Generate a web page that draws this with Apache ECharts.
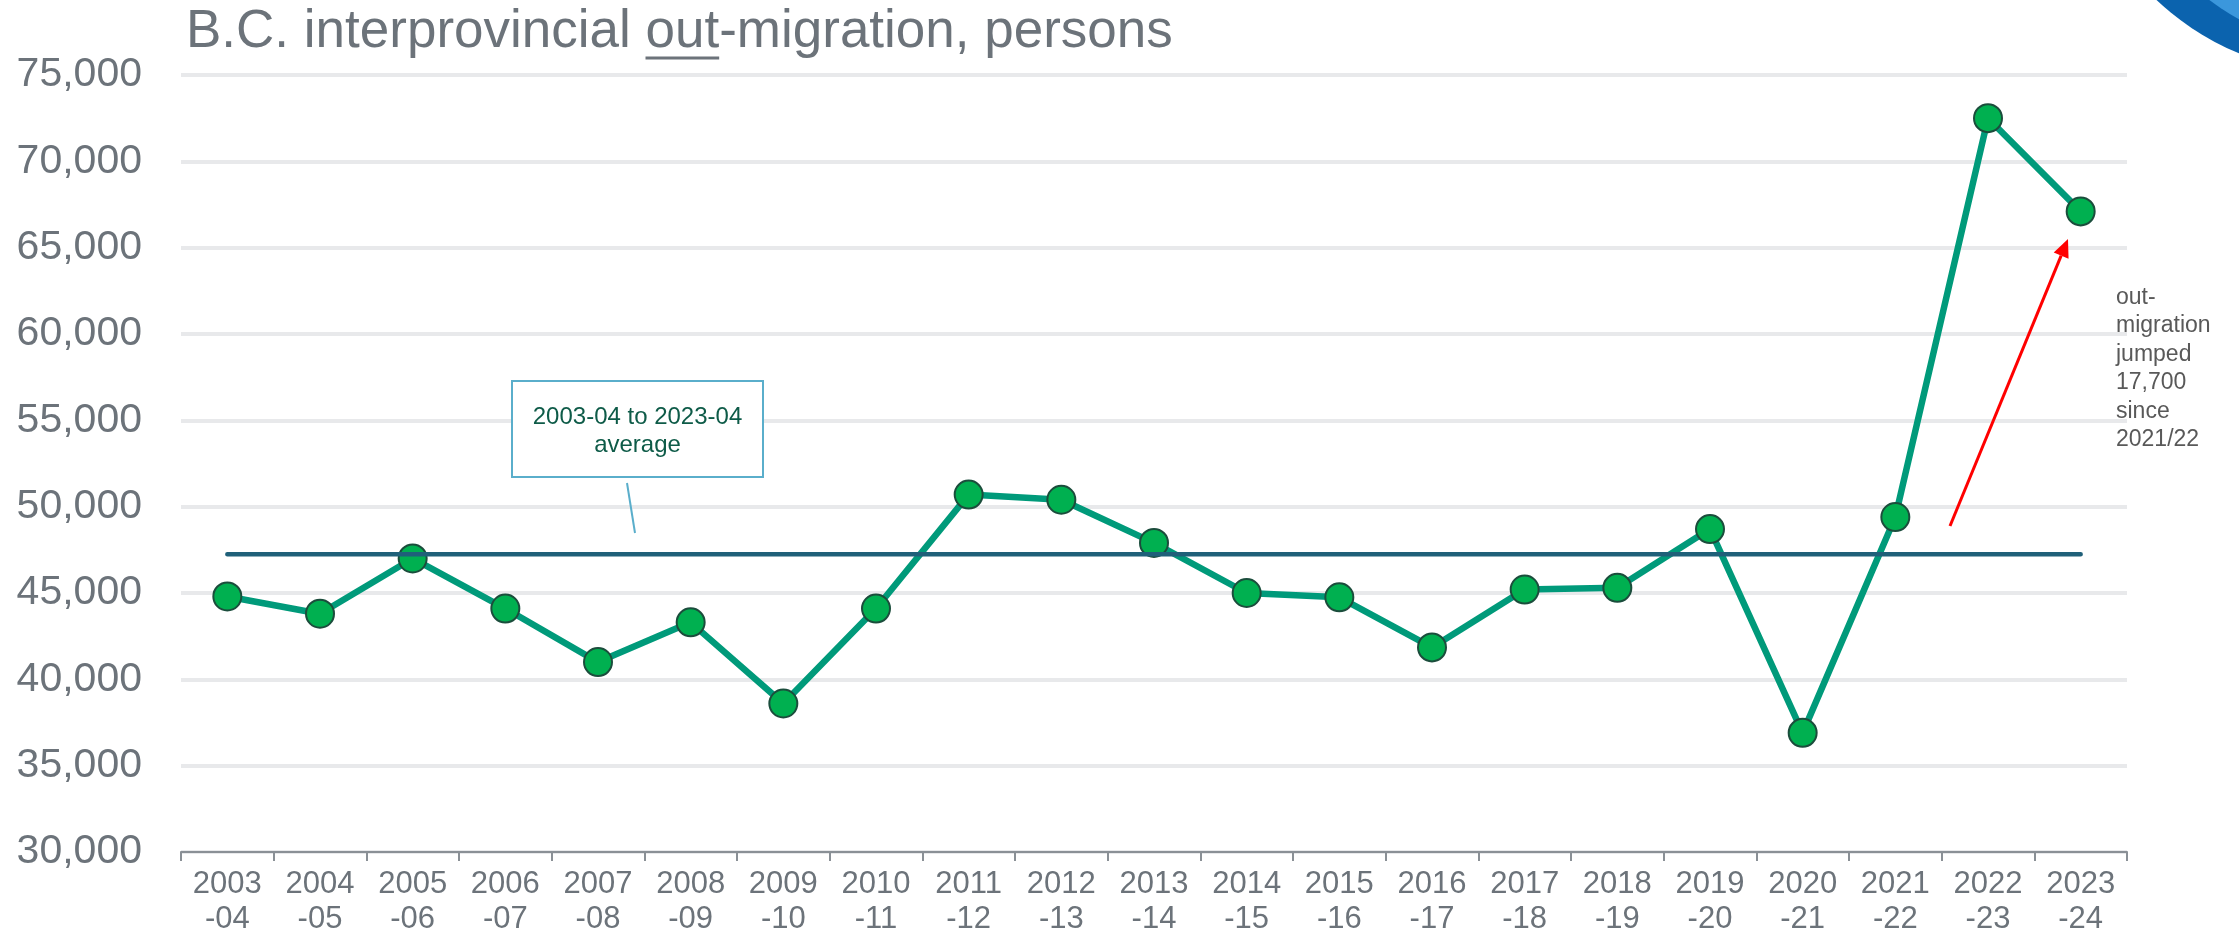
<!DOCTYPE html>
<html>
<head>
<meta charset="utf-8">
<script src="https://cdn.jsdelivr.net/npm/echarts@6/dist/echarts.min.js"></script>
<style>
  html, body { margin: 0; padding: 0; background: #ffffff; }
  #chart { width: 2239px; height: 939px; }
</style>
</head>
<body>
<div id="chart"></div>
<script>
// ---- data ----
const categories = ['2003\n-04','2004\n-05','2005\n-06','2006\n-07','2007\n-08','2008\n-09','2009\n-10',
  '2010\n-11','2011\n-12','2012\n-13','2013\n-14','2014\n-15','2015\n-16','2016\n-17','2017\n-18',
  '2018\n-19','2019\n-20','2020\n-21','2021\n-22','2022\n-23','2023\n-24'];
const outMigration = [44800, 43800, 47000, 44100, 41000, 43300, 38600, 44100, 50700, 50400, 47900,
  45000, 44750, 41850, 45200, 45300, 48700, 36900, 49400, 72500, 67100];
const averageLine = [47250, 47250, 47250, 47250, 47250, 47250, 47250, 47250, 47250, 47250, 47250,
  47250, 47250, 47250, 47250, 47250, 47250, 47250, 47250, 47250, 47250];
const yTicks = { min: 30000, max: 75000, interval: 5000 };
const titleParts = ['B.C. interprovincial ', 'out', '-migration, persons'];
const boxText = '2003-04 to 2023-04\naverage';
const sideNote = 'out-\nmigration\njumped\n17,700\nsince\n2021/22';

const FONT = '"Liberation Sans", Arial, sans-serif';
const GREY = '#6c737a';

// measure title to place the underline under "out"
const mctx = document.createElement('canvas').getContext('2d');
mctx.font = '53px "Liberation Sans"';
const titleX = 186;
const preW = mctx.measureText(titleParts[0]).width;
const outW = mctx.measureText(titleParts[1]).width;

// arrow geometry (annotation)
const ax0 = 1950, ay0 = 526, ax1 = 2068, ay1 = 239;
const dx = ax1 - ax0, dy = ay1 - ay0, L = Math.sqrt(dx*dx + dy*dy);
const ux = dx / L, uy = dy / L, px = -uy, py = ux;
const headLen = 18, headW = 8;
const bx = ax1 - ux * headLen, by = ay1 - uy * headLen;

const chart = echarts.init(document.getElementById('chart'), null, { renderer: 'canvas' });
chart.setOption({
  backgroundColor: '#ffffff',
  animation: false,
  grid: { left: 181, right: 112, top: 75, bottom: 87 },
  xAxis: {
    type: 'category',
    data: categories,
    boundaryGap: true,
    axisLine: { lineStyle: { color: '#8a9096', width: 2 } },
    axisTick: { show: true, length: 9, lineStyle: { color: '#8a9096', width: 2 } },
    axisLabel: { color: GREY, fontSize: 31, fontFamily: FONT, lineHeight: 35, margin: 15, interval: 0 },
    splitLine: { show: false }
  },
  yAxis: {
    type: 'value',
    min: yTicks.min, max: yTicks.max, interval: yTicks.interval,
    axisLine: { show: false },
    axisTick: { show: false },
    axisLabel: {
      color: GREY, fontSize: 41, fontFamily: FONT, margin: 39,
      formatter: v => v.toLocaleString('en-US')
    },
    splitLine: { show: true, lineStyle: { color: '#e8e9eb', width: 4 } }
  },
  series: [
    {
      name: 'out-migration',
      type: 'line',
      data: outMigration,
      z: 2,
      lineStyle: { color: '#009a7a', width: 6.5 },
      symbol: 'circle',
      symbolSize: 28,
      itemStyle: { color: '#00b050', borderColor: '#1b4d3c', borderWidth: 2 }
    },
    {
      name: 'average',
      type: 'line',
      data: averageLine,
      z: 3,
      symbol: 'none',
      lineStyle: { color: '#1f6079', width: 4.5, cap: 'round' }
    }
  ],
  graphic: [
    // decorative swoosh top-right
    { type: 'circle', shape: { cx: 2343, cy: -198, r: 272 }, style: { fill: '#0b63ae' }, z: 1, silent: true },
    { type: 'circle', shape: { cx: 2372, cy: -218, r: 272 }, style: { fill: '#3b97dc' }, z: 1, silent: true },
    // title
    { type: 'text', x: titleX, y: 32, z: 10,
      style: { text: titleParts.join(''), font: '53px ' + FONT, fill: GREY, verticalAlign: 'middle', align: 'left' } },
    { type: 'line', z: 10, shape: { x1: titleX + preW, y1: 58, x2: titleX + preW + outW, y2: 58 },
      style: { stroke: GREY, lineWidth: 3 } },
    // average annotation box
    { type: 'rect', z: 10, shape: { x: 512, y: 381, width: 251, height: 96 },
      style: { fill: '#ffffff', stroke: '#5aaecb', lineWidth: 2 } },
    { type: 'text', z: 11, x: 637.5, y: 431,
      style: { text: boxText, font: '24px ' + FONT, fill: '#0e5b48', align: 'center', verticalAlign: 'middle', lineHeight: 28 } },
    { type: 'line', z: 10, shape: { x1: 627, y1: 483, x2: 635, y2: 533 },
      style: { stroke: '#5aaecb', lineWidth: 2 } },
    // red arrow
    { type: 'line', z: 10, shape: { x1: ax0, y1: ay0, x2: bx, y2: by },
      style: { stroke: '#ff0000', lineWidth: 3 } },
    { type: 'polygon', z: 10,
      shape: { points: [[ax1, ay1], [bx + px*headW, by + py*headW], [bx - px*headW, by - py*headW]] },
      style: { fill: '#ff0000' } },
    // side note
    { type: 'text', z: 10, x: 2116, y: 283,
      style: { text: sideNote, font: '23px ' + FONT, fill: '#595959', align: 'left', verticalAlign: 'top', lineHeight: 28.5 } }
  ]
});
</script>
</body>
</html>
